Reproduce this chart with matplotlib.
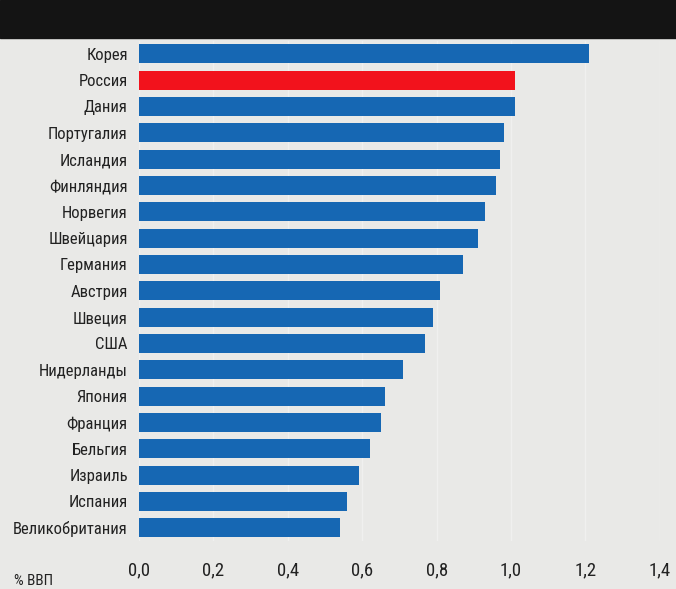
import numpy as np
import matplotlib
matplotlib.use("Agg")
from matplotlib import pyplot as plt

# countries, top to bottom
countries = ["Корея", "Россия", "Дания", "Португалия", "Исландия", "Финляндия",
             "Норвегия", "Швейцария", "Германия", "Австрия", "Швеция", "США",
             "Нидерланды", "Япония", "Франция", "Бельгия", "Израиль", "Испания",
             "Великобритания"]
values = [1.21, 1.01, 1.01, 0.98, 0.97, 0.96, 0.93, 0.91, 0.87, 0.81, 0.79,
          0.77, 0.71, 0.66, 0.65, 0.62, 0.59, 0.56, 0.54]
xticks = [0.0, 0.2, 0.4, 0.6, 0.8, 1.0, 1.2, 1.4]
xtick_labels = ["0,0", "0,2", "0,4", "0,6", "0,8", "1,0", "1,2", "1,4"]

plt.rcParams['font.family'] = ['Roboto Condensed', 'Liberation Sans Narrow', 'Roboto', 'DejaVu Sans']

bg = "#e9e9e7"
blue = "#1667b3"
red = "#f2121c"

fig = plt.figure(figsize=(6.76, 5.89), dpi=100, facecolor=bg)
ax = fig.add_axes([0.2056, 0.0815, 0.7706, 0.8495])
ax.set_facecolor(bg)

y = np.arange(len(countries))
colors = [red if c == "Россия" else blue for c in countries]
ax.barh(y, values, height=0.72, color=colors, zorder=3)

ax.set_ylim(len(countries) - 0.5, -0.5)
ax.set_xlim(0, 1.4)
ax.set_yticks(y)
ax.set_yticklabels(countries, fontsize=12, color="#222222")
ax.set_xticks(xticks)
ax.set_xticklabels(xtick_labels, fontsize=13.5, color="#222222")
ax.tick_params(axis='both', length=0)
ax.tick_params(axis='y', pad=8)
ax.tick_params(axis='x', pad=15)
for s in ax.spines.values():
    s.set_visible(False)
ax.grid(axis='x', color="white", linewidth=1.0, alpha=0.35, zorder=0)

# black header band
fig.patches.append(plt.Rectangle((0, 0.936), 1, 0.064, transform=fig.transFigure,
                                 color="#141414", zorder=0))

fig.text(0.021, 0.002, "% ВВП", fontsize=11, color="#222222", va="bottom")

fig.savefig("out.png", dpi=100, facecolor=bg)
